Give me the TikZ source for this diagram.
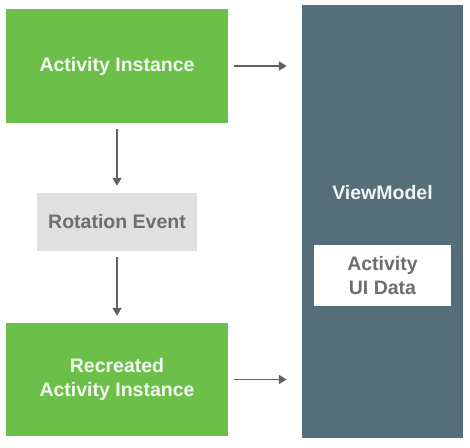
\documentclass[tikz,border=0pt]{standalone}
\usepackage{fontspec}
\setmainfont{Liberation Sans}
\usepackage{xcolor}
\usetikzlibrary{arrows.meta}
\definecolor{actgreen}{HTML}{6CC04A}
\definecolor{vmslate}{HTML}{566E7A}
\definecolor{evgray}{HTML}{E0E0E0}
\definecolor{txgray}{HTML}{6E6E6E}
\definecolor{argray}{HTML}{616161}

\begin{document}
\begin{tikzpicture}[x=1pt,y=-1pt,
        box/.style={inner sep=0pt,align=center,font=\fontsize{19.5}{24}\selectfont\bfseries},
        actbox/.style={box,fill=actgreen,text=white!92!actgreen,minimum width=222pt,minimum height=114pt},
        arr/.style={draw=argray,line width=1.8pt,-{Triangle[width=9pt,length=8pt]}}]
        \useasboundingbox (0,0) rectangle (470,447);

        \node[actbox] (act) at (117,66){Activity Instance};
        \node[box,fill=evgray,text=txgray,minimum width=160pt,minimum height=58pt] (rot) at (117,222){Rotation Event};
        \node[actbox,minimum height=113pt] (react) at (117,379.5){Recreated\\Activity Instance};

        \node[box,fill=vmslate,minimum width=161pt,minimum height=433pt] (vm) at (382.5,221.5){};
        \node[box,text=white!92!vmslate] (vmlabel) at (382.5,193){ViewModel};
        \node[box,fill=white,text=txgray,minimum width=137pt,minimum height=61pt] (uidata) at (382.5,275.5){Activity\\UI Data};

        \draw[arr,shorten <=6pt,shorten >=7pt] (act.south) -- (rot.north);
        \draw[arr,shorten <=6pt,shorten >=7pt] (rot.south) -- (react.north);
        \draw[arr,shorten <=6pt,shorten >=15pt] (act.east) -- (act.east -| vm.west);
        \draw[arr,shorten <=6pt,shorten >=15pt] (react.east) -- (react.east -| vm.west);
\end{tikzpicture}
\end{document}
